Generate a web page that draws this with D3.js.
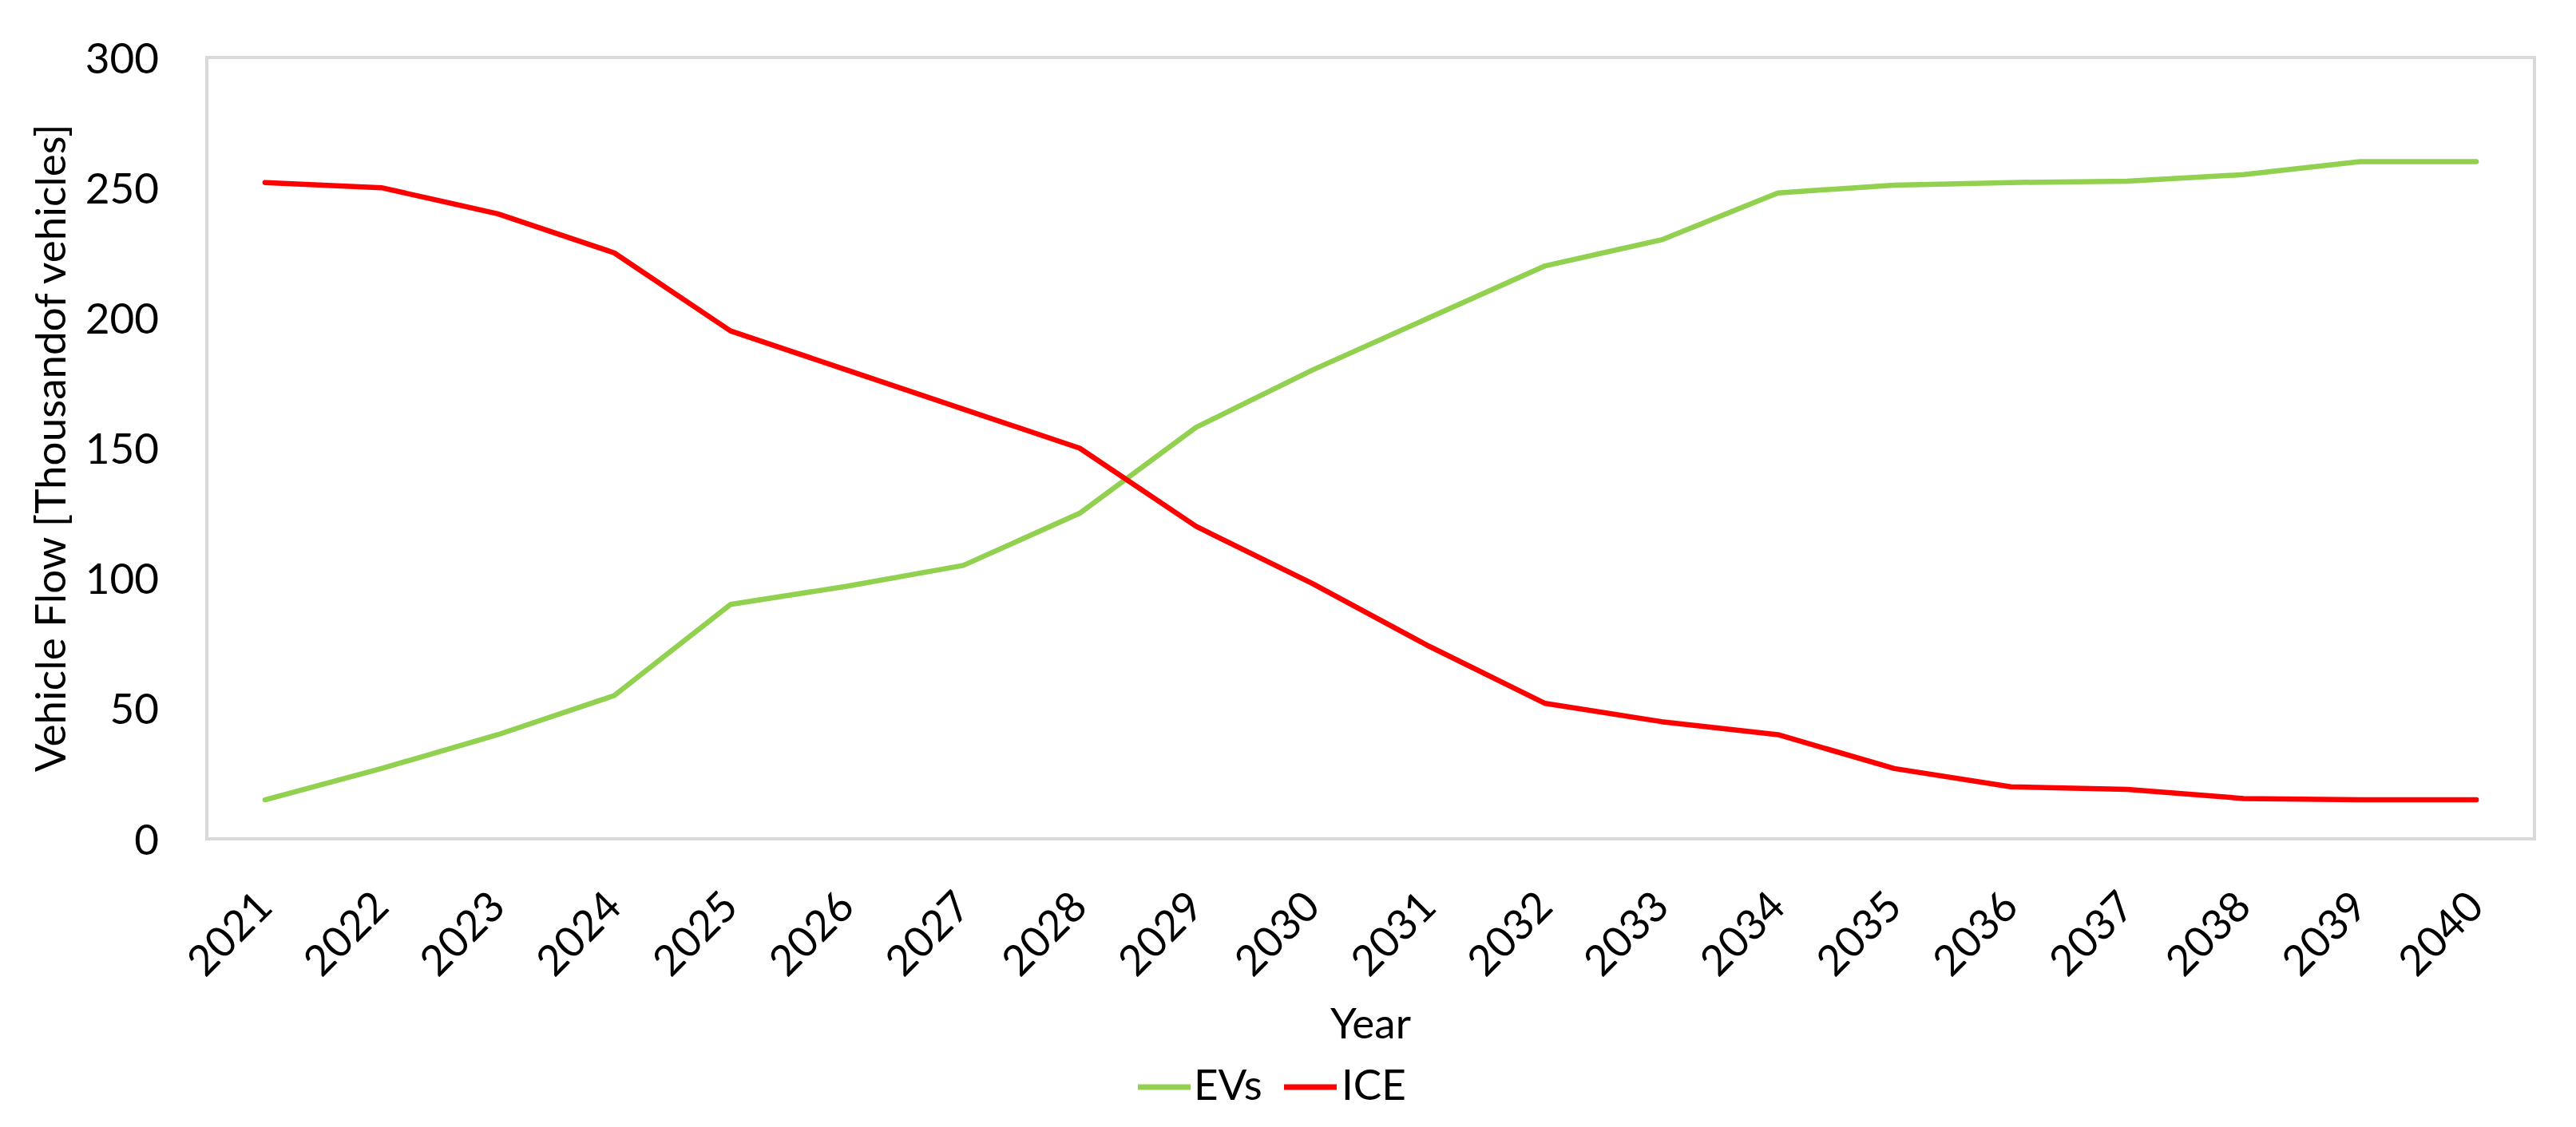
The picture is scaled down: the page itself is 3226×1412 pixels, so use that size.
<!DOCTYPE html>
<html>
<head>
<meta charset="utf-8">
<script src="https://cdn.jsdelivr.net/npm/d3@7"></script>
<style>
  html, body { margin: 0; padding: 0; background: #fff; }
  svg { display: block; }
  text { font-family: Lato, "Open Sans", sans-serif; fill: #000; }
</style>
</head>
<body>
<script>
const years = ["2021","2022","2023","2024","2025","2026","2027","2028","2029","2030",
               "2031","2032","2033","2034","2035","2036","2037","2038","2039","2040"];
const evs = [15, 27, 40, 55, 90, 97, 105, 125, 158, 180, 200, 220, 230, 248, 251, 252, 252.5, 255, 260, 260];
const ice = [252, 250, 240, 225, 195, 180, 165, 150, 120, 98, 74, 52, 45, 40, 27, 20, 19, 15.5, 15, 15];
const yTicks = [0, 50, 100, 150, 200, 250, 300];
const seriesNames = ["EVs", "ICE"];
const seriesColors = ["#92D050", "#FF0000"];

const W = 3226, H = 1412;
const plot = { left: 259, right: 3174, top: 72, bottom: 1051 };

const svg = d3.select("body").append("svg").attr("width", W).attr("height", H);

const x = d3.scaleBand().domain(years).range([plot.left, plot.right]).padding(0);
const y = d3.scaleLinear().domain([0, 300]).range([plot.bottom, plot.top]);
const cx = d => x(d) + x.bandwidth() / 2;

// frame
svg.append("rect")
  .attr("x", plot.left).attr("y", plot.top)
  .attr("width", plot.right - plot.left).attr("height", plot.bottom - plot.top)
  .attr("fill", "none").attr("stroke", "#d9d9d9").attr("stroke-width", 4);

// y axis labels
const yAxis = d3.axisLeft(y).tickValues(yTicks).tickSize(0).tickPadding(0).tickFormat(d3.format("d"));
const gy = svg.append("g").attr("transform", `translate(${199},0)`).call(yAxis);
gy.select(".domain").remove();
gy.selectAll("text").attr("font-size", 53).attr("font-family", "Lato").attr("fill", "#000").attr("dy", "0.36em");

// x axis labels
const xAxis = d3.axisBottom(x).tickSize(0).tickPadding(0);
const gx = svg.append("g").attr("transform", `translate(0,${plot.bottom})`).call(xAxis);
gx.select(".domain").remove();
gx.selectAll(".tick text")
  .attr("font-size", 53).attr("font-family", "Lato").attr("fill", "#000")
  .attr("text-anchor", "end").attr("dy", null).attr("y", 0)
  .attr("transform", "translate(12,88) rotate(-45)");

// lines
const series = [evs, ice];
const line = d3.line().x((d, i) => cx(years[i])).y(d => y(d));
series.forEach((s, k) => {
  svg.append("path").datum(s)
    .attr("d", line)
    .attr("fill", "none")
    .attr("stroke", seriesColors[k])
    .attr("stroke-width", 6.5)
    .attr("stroke-linejoin", "round")
    .attr("stroke-linecap", "round");
});

// axis titles
svg.append("text")
  .attr("x", (plot.left + plot.right) / 2).attr("y", 1301)
  .attr("text-anchor", "middle").attr("font-size", 53).text("Year");

svg.append("text")
  .attr("transform", `translate(82,${(plot.top + plot.bottom) / 2}) rotate(-90)`)
  .attr("text-anchor", "middle").attr("font-size", 53)
  .text("Vehicle Flow [Thousandof vehicles]");

// legend
const legendItems = [
  { lx: 1425, tx: 1495 },
  { lx: 1608, tx: 1680 }
];
const lg = svg.append("g");
seriesNames.forEach((n, k) => {
  lg.append("line")
    .attr("x1", legendItems[k].lx).attr("x2", legendItems[k].lx + 66)
    .attr("y1", 1362).attr("y2", 1362)
    .attr("stroke", seriesColors[k]).attr("stroke-width", 7);
  lg.append("text")
    .attr("x", legendItems[k].tx).attr("y", 1378)
    .attr("font-size", 53).text(n);
});
</script>
</body>
</html>
